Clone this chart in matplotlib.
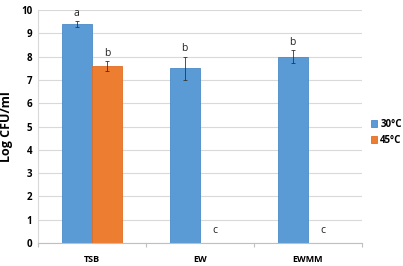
import matplotlib.pyplot as plt
import numpy as np

categories = ['TSB', 'EW', 'EWMM']
series = ['30°C', '45°C']
values_30 = [9.4, 7.5, 8.0]
values_45 = [7.6, 0.0, 0.0]
err_30 = [0.12, 0.5, 0.28]
err_45 = [0.2, 0.0, 0.0]
letters_30 = ['a', 'b', 'b']
letters_45 = ['b', 'c', 'c']

BLUE = '#5B9BD5'
ORANGE = '#ED7D31'

plt.rcParams['font.family'] = ['Open Sans', 'DejaVu Sans']

fig = plt.figure(figsize=(4.03, 2.66), dpi=100)
ax = fig.add_axes([0.094, 0.0865, 0.804, 0.8755])

x = np.arange(len(categories))
w = 0.28

ax.bar(x - w / 2, values_30, w, color=BLUE, edgecolor='#4A8BC8', linewidth=0.6,
       label=series[0], zorder=2)
ax.bar(x + w / 2, values_45, w, color=ORANGE, edgecolor='#E06E22', linewidth=0.6,
       label=series[1], zorder=2)

for xi, v, e in zip(x - w / 2, values_30, err_30):
    if e > 0:
        ax.errorbar(xi, v, yerr=e, fmt='none', ecolor='#333333', elinewidth=0.6,
                    capsize=1.5, capthick=0.6, zorder=3)
for xi, v, e in zip(x + w / 2, values_45, err_45):
    if e > 0:
        ax.errorbar(xi, v, yerr=e, fmt='none', ecolor='#333333', elinewidth=0.6,
                    capsize=1.5, capthick=0.6, zorder=3)

for xi, v, e, t in zip(x - w / 2, values_30, err_30, letters_30):
    ax.text(xi, v + e + 0.35, t, ha='center', va='center', fontsize=7.5,
            color='#222222')
for xi, v, e, t in zip(x + w / 2, values_45, err_45, letters_45):
    ax.text(xi, v + e + (0.35 if v > 0 else 0.55), t, ha='center', va='center',
            fontsize=7.5, color='#222222')

ax.set_xlim(-0.5, 2.5)
ax.set_ylim(0, 10)
ax.set_yticks(range(0, 11))
ax.yaxis.grid(True, color='#D9D9D9', linewidth=0.8, zorder=0)
ax.set_axisbelow(True)

ax.set_xticks(x)
ax.set_xticklabels(categories, fontsize=6.5, fontweight='bold')
ax.set_xticks([-0.5, 0.5, 1.5, 2.5], minor=True)
ax.tick_params(axis='x', which='major', length=0, pad=9)
ax.tick_params(axis='x', which='minor', length=3, color='#BFBFBF', width=0.8)
ax.tick_params(axis='y', length=0, labelsize=7, pad=4)
for lab in ax.get_yticklabels():
    lab.set_fontweight('bold')

for side in ['top', 'right']:
    ax.spines[side].set_visible(False)
ax.spines['left'].set_color('#D9D9D9')
ax.spines['bottom'].set_color('#BFBFBF')
ax.spines['left'].set_linewidth(0.8)
ax.spines['bottom'].set_linewidth(0.8)

ax.set_ylabel('Log CFU/ml', fontsize=9, fontweight='bold', labelpad=6)

leg = ax.legend(loc='center left', bbox_to_anchor=(1.0, 0.475), frameon=False,
                fontsize=7, handlelength=0.7, handleheight=0.7,
                handletextpad=0.3, labelspacing=0.5, borderaxespad=0.5)
for t in leg.get_texts():
    t.set_fontweight('bold')

fig.savefig('out.png', dpi=100)
